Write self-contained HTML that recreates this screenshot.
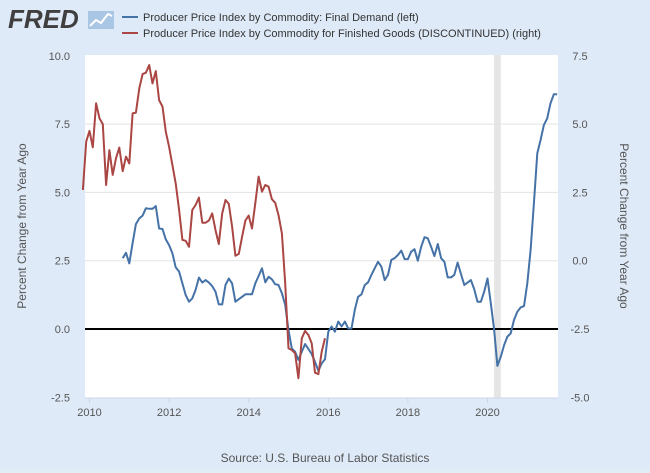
<!DOCTYPE html>
<html><head><meta charset="utf-8"><style>
body{margin:0;background:#e1ecf7;font-family:"Liberation Sans",sans-serif;}
svg text{font-family:"Liberation Sans",sans-serif;}
</style></head><body>
<svg id="c" width="650" height="468" xmlns="http://www.w3.org/2000/svg">
<rect width="650" height="468" fill="#dfeaf8"/>
<g>
<text x="8" y="28" font-size="26" font-weight="bold" fill="#3f3f3f" font-style="italic">FRED</text>
<rect x="88" y="11" width="26" height="18" fill="#a9c6e4"/>
<polyline points="90,26 96,20 101,23 108,14 112,16" fill="none" stroke="#fff" stroke-width="2"/>
</g>
<g>
<line x1="122" y1="17" x2="138" y2="17" stroke="#4572a7" stroke-width="2"/>
<text x="143" y="21" font-size="11" fill="#333">Producer Price Index by Commodity: Final Demand (left)</text>
<line x1="122" y1="33" x2="138" y2="33" stroke="#aa4643" stroke-width="2"/>
<text x="143" y="37" font-size="11" fill="#333">Producer Price Index by Commodity for Finished Goods (DISCONTINUED) (right)</text>
</g>
<rect x="85" y="55" width="473" height="343" fill="#fff"/>
<g id="grid"></g>
<g id="marks"></g>
<text transform="translate(26,226) rotate(-90)" text-anchor="middle" font-size="12" fill="#555">Percent Change from Year Ago</text>
<text transform="translate(620,226) rotate(90)" text-anchor="middle" font-size="12" fill="#555">Percent Change from Year Ago</text>
<text x="325" y="462" text-anchor="middle" font-size="12" fill="#555">Source: U.S. Bureau of Labor Statistics</text>
</svg>
<script>
const leftTicks=[-2.5,0,2.5,5,7.5,10];
const rightTicks=[-5,-2.5,0,2.5,5,7.5];
const xTickYears=[2010,2012,2014,2016,2018,2020];
const recession=[2020+2/12,2020+4/12];
const blueStart=2010+10/12;
const redStart=2009+10/12;
const blueValues=[2.59,2.79,2.40,3.14,3.84,4.05,4.15,4.42,4.40,4.40,4.50,3.68,3.66,3.28,3.07,2.77,2.26,2.10,1.67,1.24,1.00,1.12,1.43,1.88,1.70,1.79,1.70,1.57,1.37,0.90,0.90,1.61,1.85,1.67,1.00,1.09,1.18,1.27,1.27,1.27,1.67,1.94,2.22,1.71,1.91,1.82,1.64,1.61,1.31,0.88,-0.04,-0.71,-0.83,-1.13,-0.83,-0.55,-0.73,-0.92,-1.20,-1.53,
-1.26,-1.11,-0.10,0.09,-0.10,0.27,0.09,0.27,0.02,0.02,0.70,1.18,1.27,1.61,1.71,1.98,2.22,2.46,2.28,1.79,1.98,2.53,2.59,2.71,2.87,2.56,2.56,2.83,2.92,2.50,3.01,3.36,3.32,3.01,2.67,3.11,2.59,2.46,1.89,1.89,1.98,2.43,2.01,1.61,1.70,1.79,1.46,1.00,1.00,1.37,1.85,0.94,-0.01,-1.35,-1.01,-0.59,-0.28,-0.16,0.33,0.63,0.79,0.84,1.67,2.89,4.60,6.43,6.92,7.47,7.71,8.26,8.59,8.59];
const redValues=[2.59,4.36,4.75,4.15,5.76,5.21,5.00,2.77,4.05,3.14,3.75,4.14,3.28,3.81,3.56,5.39,5.42,6.31,6.83,6.88,7.16,6.49,6.94,5.88,5.64,4.72,4.17,3.50,2.83,1.86,0.76,0.73,0.51,1.86,2.04,2.31,1.39,1.39,1.47,1.73,1.12,0.61,1.73,2.22,2.08,1.25,0.18,0.25,0.88,1.47,1.65,1.18,2.10,3.08,2.53,2.77,2.71,2.25,2.12,1.67,1.00,-0.83,-3.21,-3.27,-3.39,-4.30,-2.84,-2.57,-2.72,-3.02,-4.10,-4.15,-3.33,-2.84];
const NS="http://www.w3.org/2000/svg";
const X=t=>89.5+(t-2010)*39.8;
const YL=v=>329-v*27.32;
const YR=v=>YL(v+2.5);
function mk(tag,attrs,parent){const e=document.createElementNS(NS,tag);for(const k in attrs)e.setAttribute(k,attrs[k]);parent.appendChild(e);return e;}
const grid=document.getElementById('grid'),marks=document.getElementById('marks'),svg=document.getElementById('c');
const rec=mk('rect',{x:X(recession[0]),y:55,width:X(recession[1])-X(recession[0]),height:343,fill:'#e5e5e5'},grid);


leftTicks.forEach(v=>{
 if(v!==0&&v!==-2.5&&v!==10){const l=mk('line',{x1:85,x2:558,y1:YL(v),y2:YL(v),stroke:'#e3e3e3','stroke-width':1},grid);
 
 }
 const t=mk('text',{x:70,y:YL(v)+4,'text-anchor':'end','font-size':11,fill:'#555'},svg);
 t.textContent=v.toFixed(1);
 
 
});
rightTicks.forEach(v=>{
 const t=mk('text',{x:580,y:YR(v)+4,'text-anchor':'middle','font-size':11,fill:'#555'},svg);
 t.textContent=v.toFixed(1);
 
 
});
xTickYears.forEach(y=>{
 mk('line',{x1:X(y),x2:X(y),y1:398,y2:403,stroke:'#ccd6eb'},svg);
 const t=mk('text',{x:X(y),y:416,'text-anchor':'middle','font-size':11,fill:'#555'},svg);
 t.textContent=y;
 
 
});
const ax=mk('line',{x1:85,x2:558,y1:398,y2:398,stroke:'#ccd6eb'},svg);


const z=mk('line',{x1:85,x2:558,y1:YL(0),y2:YL(0),stroke:'#000','stroke-width':2},marks);


const bp=blueValues.map((v,i)=>X(blueStart+i/12).toFixed(1)+','+YL(v).toFixed(1)).join(' ');
const rp=redValues.map((v,i)=>X(redStart+i/12).toFixed(1)+','+YR(v).toFixed(1)).join(' ');
const b=mk('polyline',{points:bp,fill:'none',stroke:'#4572a7','stroke-width':2,'stroke-linejoin':'round'},marks);


const r=mk('polyline',{points:rp,fill:'none',stroke:'#aa4643','stroke-width':2,'stroke-linejoin':'round'},marks);


</script>
</body></html>
